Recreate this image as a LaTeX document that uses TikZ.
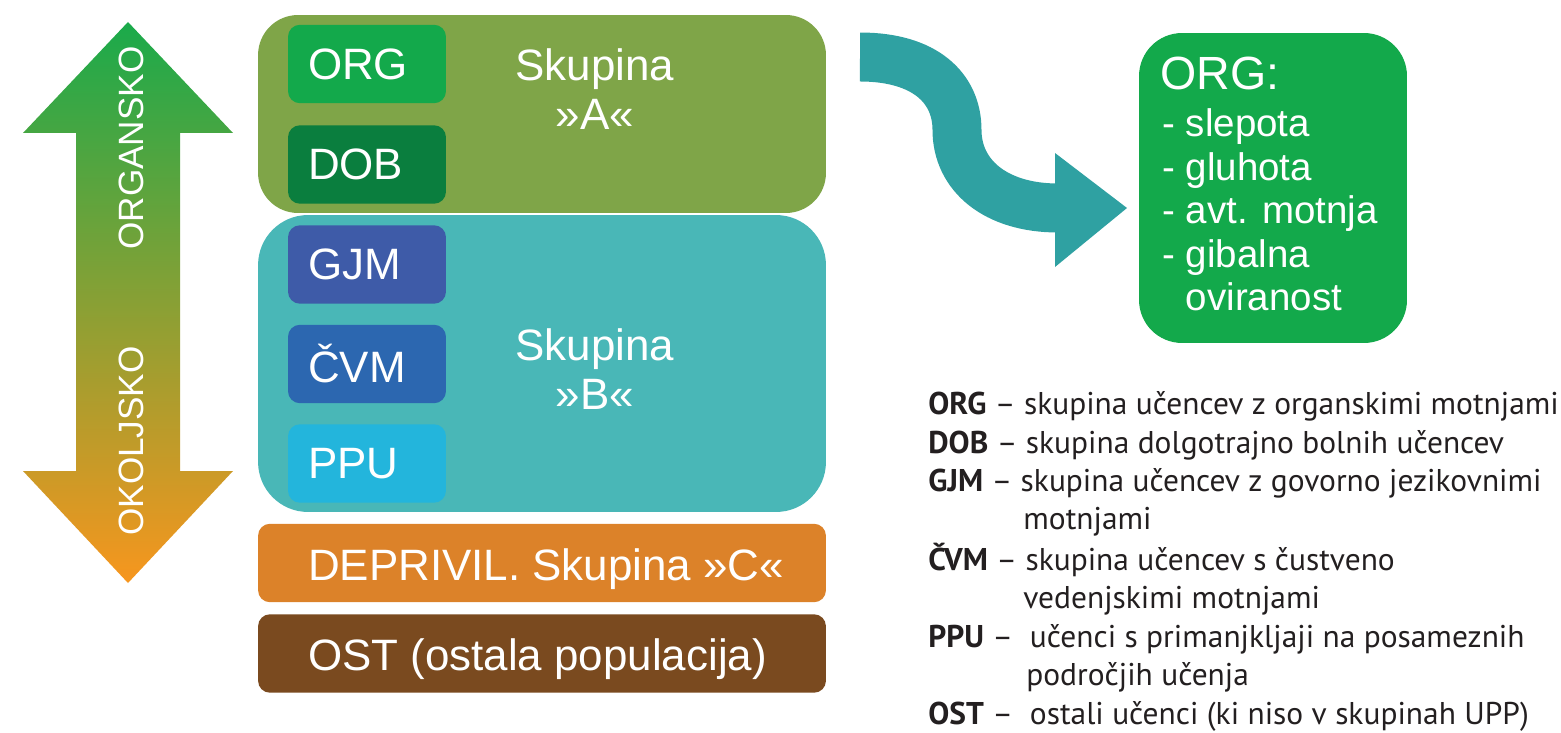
\documentclass[tikz,border=0pt]{standalone}
\usepackage{fontspec}
\setmainfont{Liberation Sans}
\newfontfamily\legendfont{PT Sans}
\usetikzlibrary{positioning}

\definecolor{grpAcol}{HTML}{7FA548}
\definecolor{grpBcol}{HTML}{49B7B7}
\definecolor{orgcol}{HTML}{13A94B}
\definecolor{dobcol}{HTML}{0A7E3E}
\definecolor{gjmcol}{HTML}{3E5BA8}
\definecolor{cvmcol}{HTML}{2C67B0}
\definecolor{ppucol}{HTML}{23B5DC}
\definecolor{depcol}{HTML}{DC8229}
\definecolor{ostcol}{HTML}{7A4A1F}
\definecolor{bendcol}{HTML}{2FA1A2}
\definecolor{arrowtop}{HTML}{1AAA4B}
\definecolor{arrowbot}{HTML}{F7961E}
\definecolor{legcol}{HTML}{231F20}

\tikzset{
  grpbox/.style={minimum width=11.36cm, inner sep=0pt},
  band/.style={minimum width=11.36cm, minimum height=1.57cm, rounded corners=0.24cm, inner sep=0pt},
  subbox/.style={minimum width=3.16cm, minimum height=1.57cm, text width=2.36cm, inner xsep=0.4cm,
    rounded corners=0.24cm, align=left, text=white, font=\fontsize{25}{28}\selectfont},
  bigtext/.style={text=white, inner sep=0pt, font=\fontsize{25}{28.3}\selectfont},
  sidetext/.style={text=white, inner sep=0pt, font=\fontsize{20}{24}\selectfont},
  detailhead/.style={text=white, inner sep=0pt, font=\fontsize{26.5}{30}\selectfont},
  detailitem/.style={text=white, inner sep=0pt, anchor=base west, font=\fontsize{21.9}{24.5}\selectfont},
  legline/.style={text=legcol, inner sep=0pt, anchor=base west, font=\legendfont\fontsize{17.9}{21}\selectfont}
}

\begin{document}
\begin{tikzpicture}[x=0.02cm, y=-0.02cm]
\useasboundingbox (0,0) rectangle (1561,733);

% dvojna puscica
\shade[top color=arrowtop, bottom color=arrowbot] (128,22) -- (233,133) -- (180,133) -- (180,471)
  -- (233,471) -- (128,583) -- (23,471) -- (76,471) -- (76,133) -- (23,133) -- cycle;
\node[sidetext, rotate=90] (organsko) at (131,148) {ORGANSKO};
\node[sidetext, rotate=90] (okoljsko) at (131,441) {OKOLJSKO};

% skupine
\node[grpbox, rounded corners=0.8cm, minimum height=3.96cm, fill=grpAcol] (grpA) at (542,114) {};
\node[grpbox, rounded corners=1cm, minimum height=5.94cm, fill=grpBcol] (grpB) at (542,363.5) {};
\node[band, fill=depcol] (grpC) at (542,563) {};
\node[band, fill=ostcol] (ost) at (542,653.5) {};

\node[subbox, fill=orgcol] (org) at (367,64) {ORG};
\node[subbox, fill=dobcol] (dob) at (367,164.5) {DOB};
\node[subbox, fill=gjmcol] (gjm) at (367,264.5) {GJM};
\node[subbox, fill=cvmcol] (cvm) at (367,364) {ČVM};
\node[subbox, fill=ppucol] (ppu) at (367,463.5) {PPU};

\node[bigtext, align=center] (grpAtext) at (595,89) {Skupina\\»A«};
\node[bigtext, align=center] (grpBtext) at (595,369) {Skupina\\»B«};
\node[bigtext, anchor=base west] (grpCtext) at ([xshift=1cm, yshift=-0.34cm]grpC.west) {DEPRIVIL. Skupina »C«};
\node[bigtext, anchor=base west] (osttext) at ([xshift=1cm, yshift=-0.33cm]ost.west) {OST (ostala populacija)};

% zavita puscica
\coordinate (bendstart) at (860,57);
\coordinate (bendend) at (1058,208);
\draw[bendcol, line width=0.98cm] (bendstart) .. controls (925,57) and (957,88) .. (957,130)
  .. controls (957,175) and (995,208) .. (bendend);
\fill[bendcol] (1055,153) -- (1127,208) -- (1055,267) -- cycle;

% ORG podrobno
\node[fill=orgcol, rounded corners=0.86cm, minimum width=5.36cm, minimum height=6.2cm, inner sep=0pt] (orgdetail) at (1273,188) {};
\node[detailhead, anchor=base west] (orghead) at (1160,90) {ORG:};
\node[detailitem] (orgitema) at (1162,137) {- slepota};
\node[detailitem] (orgitemb) at (1162,180.3) {- gluhota};
\node[detailitem] (orgitemc) at (1162,223.6) {- avt. motnja};
\node[detailitem] (orgitemd) at (1162,267) {- gibalna};
\node[detailitem] (orgiteme) at (1162,310) {\phantom{- }oviranost};

% legenda
\node[legline] (legorg) at (928,414) {\textbf{ORG} – skupina učencev z organskimi motnjami};
\node[legline] (legdob) at (928,453) {\textbf{DOB} – skupina dolgotrajno bolnih učencev};
\node[legline] (leggjm) at (928,491) {\textbf{GJM} – skupina učencev z govorno jezikovnimi};
\node[legline] (leggjmb) at (1023,529) {motnjami};
\node[legline] (legcvm) at (928,570) {\textbf{ČVM} – skupina učencev s čustveno};
\node[legline] (legcvmb) at (1023,608) {vedenjskimi motnjami};
\node[legline] (legppu) at (928,647) {\textbf{PPU} –\ \ učenci s primanjkljaji na posameznih};
\node[legline] (legppub) at (1026,685) {področjih učenja};
\node[legline] (legost) at (928,724) {\textbf{OST} –\ \ ostali učenci (ki niso v skupinah UPP)};
\end{tikzpicture}
\end{document}
